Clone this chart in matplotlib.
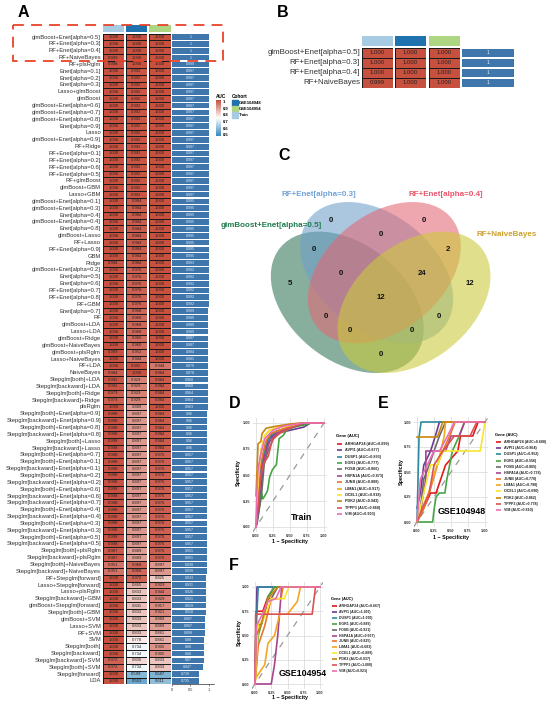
import matplotlib
matplotlib.use("Agg")
import matplotlib.pyplot as plt
from matplotlib.colors import LinearSegmentedColormap, Normalize
from matplotlib.patches import Ellipse, Rectangle
import numpy as np

plt.rcParams['font.family'] = ['Liberation Sans', 'DejaVu Sans']
W, H = 550, 705
fig = plt.figure(figsize=(W/100, H/100), dpi=100)

def E(a): return f"Enet[alpha=0.{a}]"
def gE(a): return "glmBoost+" + E(a)
def rE(a): return "RF+" + E(a)
def bE(a): return "Stepglm[both]+" + E(a)
def kE(a): return "Stepglm[backward]+" + E(a)

models = [gE(5), rE(3), rE(4), "RF+NaiveBayes", "RF+plsRglm", E(1), E(2), E(3), "Lasso+glmBoost", "glmBoost",
          gE(6), gE(7), gE(8), E(9), "Lasso", gE(9), "RF+Ridge", rE(1), rE(2), rE(6), rE(5), "RF+glmBoost",
          "glmBoost+GBM", "Lasso+GBM", gE(1), gE(3), E(4), gE(4), E(8), "glmBoost+Lasso", "RF+Lasso", rE(9),
          "GBM", "Ridge", gE(2), E(5), E(6), rE(7), rE(8), "RF+GBM", E(7), "RF", "glmBoost+LDA", "Lasso+LDA",
          "glmBoost+Ridge", "glmBoost+NaiveBayes", "glmBoost+plsRglm", "Lasso+NaiveBayes", "RF+LDA", "NaiveBayes",
          "Stepglm[both]+LDA", "Stepglm[backward]+LDA", "Stepglm[both]+Ridge", "Stepglm[backward]+Ridge", "plsRglm",
          bE(9), kE(9), bE(8), kE(8), "Stepglm[both]+Lasso", "Stepglm[backward]+Lasso", bE(7), bE(1), kE(1), bE(2),
          kE(2), bE(6), kE(6), kE(7), bE(4), kE(4), bE(3), kE(3), bE(5), kE(5), "Stepglm[both]+plsRglm",
          "Stepglm[backward]+plsRglm", "Stepglm[both]+NaiveBayes", "Stepglm[backward]+NaiveBayes",
          "RF+Stepglm[forward]", "Lasso+Stepglm[forward]", "Lasso+plsRglm", "Stepglm[backward]+GBM",
          "glmBoost+Stepglm[forward]", "Stepglm[both]+GBM", "glmBoost+SVM", "Lasso+SVM", "RF+SVM", "SVM",
          "Stepglm[both]", "Stepglm[backward]", "Stepglm[backward]+SVM", "Stepglm[both]+SVM", "Stepglm[forward]", "LDA"]

auc_train = [1, 1, 1, .999, .998] + [1]*28 + [.994] + [1]*6 + [1, 1, 1, 1, 1, 1, .999, 1, 1, .984, .992, .992, .979, .979, 1] \
    + [.998]*20 + [.987, .987, .951, .951, 1, 1, 1, 1, 1, 1, 1, 1, 1, 1, 1, 1, .972, .972, 1, 1]
auc_948 = [1, 1, 1, 1, 1] + [.992]*19 + [.984]*10 + [.976]*6 + [.968]*4 + [.960, .960, .952, .944, .992, 1, .929, .929, .929, .929, .889] \
    + [.897]*20 + [.889, .889, .968, .968, .972, .865, .833, .833, .841, .833, .833, .833, .833, .778, .734, .734, .806, .734, .599, .563]
auc_954 = [1]*48 + [.944, .984, .984, .984, .984, .984, 1] + [.984]*6 + [.976]*14 + [.976, .976, .897, .897, .825, .929, .944, .929, .917, .921,
    .889, .889, .861, .861, .905, .905, .833, .833, .587, .611]
auc_mean = [1, 1, 1, 1, .999] + [.997]*19 + [.995]*9 + [.993] + [.992]*6 + [.989]*4 + [.987, .987, .984, .981, .979, .978, .968, .968, .964, .964, .963] \
    + [.96]*6 + [.957]*14 + [.951, .951, .939, .939, .933, .931, .926, .921, .919, .918, .907, .907, .898, .88, .88, .88, .87, .847, .729, .725]

top_models = models[:4]
top_train = [1, 1, 1, .999]
top_948 = [1, 1, 1, 1]
top_954 = [1, 1, 1, 1]
top_mean = [1, 1, 1, 1]

cohort_names = ["GSE104948", "GSE104954", "Train"]
cohort_colors = {"Train": "#a6cbe3", "GSE104948": "#1f72ad", "GSE104954": "#aed582"}
col_order = ["Train", "GSE104948", "GSE104954"]

cmap = LinearSegmentedColormap.from_list("auc", [(0, "#3a8abb"), (.5, "#ffffff"), (1, "#c8503f")])
norm = Normalize(.5, 1)

def ax_px(x0, y0, x1, y1, **kw):
    return fig.add_axes([x0/W, 1-y1/H, (x1-x0)/W, (y1-y0)/H], **kw)

def heat_table(names, cols, means, col_x, bar_x, rows_y, head_y, label_fs, cell_fs, bar_fs, elw, axis):
    n = len(names)
    for (x0, x1), vals, key in zip(col_x, cols, col_order):
        a = ax_px(x0, rows_y[0], x1, rows_y[1])
        a.pcolormesh([0, 1], np.arange(n+1), np.array(vals)[:, None], cmap=cmap, norm=norm,
                     edgecolors="#1a1a1a", linewidth=elw)
        a.set_xlim(0, 1); a.set_ylim(n, 0); a.axis("off")
        for i, v in enumerate(vals):
            a.text(.5, i+.5, f"{v:.3f}", ha="center", va="center", fontsize=cell_fs, color="#222222")
        h = ax_px(x0, head_y[0], x1, head_y[1])
        h.add_patch(Rectangle((0, 0), 1, 1, color=cohort_colors[key]))
        h.axis("off")
    b = ax_px(bar_x[0], rows_y[0], bar_x[1], rows_y[1])
    b.barh(np.arange(n)+.5, means, height=.84, color="#3f77ad")
    b.set_ylim(n, 0)
    b.set_xlim(0, (bar_x[1]-bar_x[0])/bar_x[2])
    for i, v in enumerate(means):
        b.text(v/2, i+.5, f"{v:g}", ha="center", va="center", fontsize=bar_fs, color="#e8eef5")
    for s in ["top", "left", "right"]:
        b.spines[s].set_visible(False)
    b.set_yticks([])
    if axis:
        b.set_xticks([0, .5, 1], ["0", "0.5", "1"], fontsize=2.8)
        b.tick_params(axis="x", length=1.5, width=.4, pad=.8, colors="#333333")
        b.spines["bottom"].set_linewidth(.4)
    else:
        b.axis("off")
    y = ax_px(col_x[0][0]-2, rows_y[0], col_x[0][0]-1, rows_y[1])
    y.set_ylim(n, 0); y.axis("off")
    for i, nm in enumerate(names):
        y.text(0, i+.5, nm, ha="right", va="center", fontsize=label_fs, color="#333333")

heat_table(models, [auc_train, auc_948, auc_954], auc_mean,
           [(103, 124), (126, 147), (149.5, 171)], (172, 213.5, 36.9), (33.6, 684.4), (25, 32),
           4.2, 3.0, 2.6, .45, True)
heat_table(top_models, [top_train, top_948, top_954], top_mean,
           [(362, 393), (395, 426), (429, 460)], (462, 514, 52), (48, 88), (36, 46),
           5.7, 4.3, 3.6, .7, False)

ov = fig.add_axes([0, 0, 1, 1], zorder=20)
ov.set_xlim(0, W); ov.set_ylim(H, 0); ov.axis("off"); ov.patch.set_alpha(0)

ov.add_patch(Rectangle((13, 25), 210, 36, fill=False, edgecolor="#e8432a", linewidth=1.3,
                       linestyle=(0, (6, 4))))
for t, x, y in [("A", 18, 12.5), ("B", 277, 12.5), ("C", 278, 155.5), ("D", 229, 404), ("E", 378, 404), ("F", 229, 566)]:
    ov.text(x, y, t, fontsize=11.5, fontweight="bold", ha="left", va="center", color="black")

# heat legend
ov.text(216, 96, "AUC", fontsize=3.4, fontweight="bold", va="center")
cb = ax_px(216, 100, 221, 136, zorder=21)
cb.imshow(np.linspace(1, .5, 100)[:, None], aspect="auto", cmap=cmap, norm=norm, extent=[0, 1, .5, 1])
cb.axis("off")
for v, y in zip(["1", "0.9", "0.8", "0.7", "0.6", "0.5"], [102, 108.5, 115, 122, 128.5, 135]):
    ov.text(222.5, y, v, fontsize=3, fontweight="bold", va="center")
ov.text(232, 96, "Cohort", fontsize=3.4, fontweight="bold", va="center")
for nm, y in zip(cohort_names, [103, 109, 115]):
    ov.add_patch(Rectangle((232, y-2.8), 5.6, 5.6, color=cohort_colors[nm]))
    ov.text(238.5, y, nm, fontsize=3, fontweight="bold", va="center")

# Venn
venn_sets = ["glmBoost+Enet[alpha=0.5]", "RF+Enet[alpha=0.3]", "RF+Enet[alpha=0.4]", "RF+NaiveBayes"]
venn_colors = ["#327658", "#6ea0cb", "#e36775", "#cbcb39"]
venn_centers = [(347.3, 302.3), (376.7, 272.7), (384.3, 272.7), (414, 302.3)]
venn_angles = [39, 39, -39, -39]
venn_counts = [0, 0, 0, 0, 2, 5, 12, 0, 24, 12, 0, 0, 0, 0, 0]
venn_pos = [(272, 242), (553, 242), (222, 328), (423, 285), (625, 328), (150, 430), (690, 430), (302, 400),
            (545, 400), (423, 472), (258, 530), (597, 530), (330, 573), (517, 573), (423, 645)]
for c, xy, ang in zip(venn_colors, venn_centers, venn_angles):
    ov.add_patch(Ellipse(xy, 173, 116, angle=ang, facecolor=c, edgecolor="none", alpha=.58))
for v, (zx, zy) in zip(venn_counts, venn_pos):
    ov.text(240+zx/3, 140+zy/3, str(v), fontsize=5.6, fontweight="bold", ha="center", va="center", color="#111111")
ov.text(322, 225.5, venn_sets[0], fontsize=5.8, fontweight="bold", color="#1f7a4d", ha="right", va="center")
ov.text(319, 194, venn_sets[1], fontsize=5.8, fontweight="bold", color="#6fa3d8", ha="center", va="center")
ov.text(446, 194, venn_sets[2], fontsize=5.8, fontweight="bold", color="#e8566b", ha="center", va="center")
ov.text(507, 234.5, venn_sets[3], fontsize=5.8, fontweight="bold", color="#cda22c", ha="center", va="center")

# ROC curves
genes = ["ARHGAP24", "AVPI1", "DUSP1", "EGR1", "FOSB", "HSPA1A", "JUNB", "LIMA1", "OCEL1", "PDK2", "TPPP3", "VIM"]
gene_colors = ["#e41a1c", "#6a3d8f", "#2f8aa0", "#46a546", "#6b6b6b", "#a8448f", "#e8762b", "#f5a623", "#f7e62e", "#c8860d", "#d9534f", "#e96fb2"]
auc_D = [".899", ".877", ".893", ".777", ".866", ".873", ".888", ".917", ".918", ".943", ".860", ".903"]
auc_E = [".688", ".864", ".952", ".556", ".865", ".738", ".778", ".798", ".690", ".862", ".778", ".810"]
auc_F = [".667", "1.000", "1.000", ".889", ".921", ".667", ".825", ".683", ".889", ".937", "1.000", ".921"]

D_ARHGAP24 = [(0,0),(.02,.2),(.05,.45),(.1,.65),(.13,.78),(.2,.87),(.3,.92),(.45,.95),(.6,.98),(.75,1),(1,1)]
D_AVPI1 = [(0,0),(.03,.15),(.07,.35),(.1,.55),(.13,.72),(.2,.85),(.3,.9),(.5,.93),(.7,.96),(.8,1),(1,1)]
D_DUSP1 = [(0,0),(.02,.15),(.06,.4),(.08,.6),(.15,.8),(.22,.88),(.3,.92),(.5,.96),(.65,.98),(.75,1),(1,1)]
D_EGR1 = [(0,0),(.02,.05),(.05,.2),(.08,.33),(.1,.27),(.13,.3),(.17,.35),(.2,.48),(.24,.55),(.3,.6),(.34,.85),(.4,.88),(.45,.93),(.55,.96),(.7,.98),(.8,1),(1,1)]
D_FOSB = [(0,0),(.03,.1),(.08,.3),(.12,.6),(.17,.72),(.25,.84),(.32,.9),(.45,.94),(.6,.97),(.72,1),(1,1)]
D_HSPA1A = [(0,0),(.02,.1),(.06,.4),(.1,.6),(.14,.7),(.2,.82),(.3,.9),(.42,.93),(.55,.98),(.7,1),(1,1)]
D_JUNB = [(0,0),(.03,.3),(.05,.55),(.1,.7),(.15,.83),(.22,.9),(.35,.93),(.5,.97),(.7,1),(1,1)]
D_LIMA1 = [(0,0),(.02,.3),(.05,.6),(.08,.75),(.13,.88),(.2,.93),(.35,.96),(.55,.98),(.7,1),(1,1)]
D_OCEL1 = [(0,0),(.02,.25),(.04,.55),(.09,.78),(.13,.88),(.2,.93),(.3,.95),(.45,.97),(.68,1),(1,1)]
D_PDK2 = [(0,.3),(.03,.8),(.07,.82),(.09,.9),(.15,.95),(.3,.97),(.5,.99),(.65,1),(1,1)]
D_TPPP3 = [(0,0),(.03,.2),(.07,.5),(.12,.62),(.18,.68),(.24,.84),(.35,.9),(.5,.95),(.7,1),(1,1)]
D_VIM = [(0,0),(.01,.3),(.03,.55),(.07,.7),(.13,.85),(.25,.93),(.4,.97),(.6,.99),(.68,1),(1,1)]

E_ARHGAP24 = [(0,0),(.1,.14),(.2,.29),(.28,.29),(.35,.43),(.42,.57),(.6,.71),(.64,.86),(.82,.86),(.9,1),(1,1)]
E_AVPI1 = [(0,.14),(.05,.29),(.1,.57),(.2,.71),(.27,.86),(.33,1),(1,1)]
E_DUSP1 = [(0,0),(.03,.85),(.06,1),(1,1)]
E_EGR1 = [(0,0),(.23,0),(.25,.12),(.28,.25),(.33,.29),(.41,.29),(.44,.43),(.52,.71),(.62,.86),(.7,1),(1,1)]
E_FOSB = [(0,0),(.05,.14),(.1,.43),(.18,.57),(.25,.71),(.33,.86),(.42,1),(1,1)]
E_HSPA1A = [(0,0),(.06,.14),(.13,.43),(.13,.71),(.42,.71),(.5,.86),(.62,.86),(.7,1),(1,1)]
E_JUNB = [(0,0),(.1,.14),(.18,.29),(.3,.57),(.38,.71),(.48,.86),(.56,1),(1,1)]
E_LIMA1 = [(0,0),(.08,.14),(.17,.29),(.23,.43),(.3,.57),(.35,.71),(.4,.86),(.42,1),(1,1)]
E_OCEL1 = [(0,0),(.1,.29),(.2,.57),(.3,.57),(.38,.71),(.93,.71),(1,1)]
E_PDK2 = [(0,.85),(.3,.85),(.38,1),(1,1)]
E_TPPP3 = [(0,0),(.08,.14),(.18,.29),(.25,.57),(.38,.71),(.55,.86),(.78,.86),(.88,1),(1,1)]
E_VIM = [(0,0),(.05,.43),(.15,.57),(.25,.71),(.33,.71),(.45,.86),(.55,1),(.85,1),(.95,1),(1,1)]

F_ARHGAP24 = [(0,0),(.02,.75),(.12,.75),(.2,.9),(.3,1),(.88,1),(1,1)]
F_AVPI1 = [(0,0),(.03,1),(1,1)]
F_DUSP1 = [(0,0),(.01,.5),(.05,1),(1,1)]
F_EGR1 = [(0,0),(.05,.5),(.1,.62),(.15,.72),(.2,.9),(.3,1),(1,1)]
F_FOSB = [(0,0),(.03,.6),(.1,.62),(.2,.88),(.25,.88),(.35,1),(1,1)]
F_HSPA1A = [(0,0),(.25,0),(.3,.2),(.35,.5),(.38,.75),(.41,1),(1,1)]
F_JUNB = [(0,0),(.05,.4),(.15,.6),(.25,.88),(.4,.88),(.43,1),(1,1)]
F_LIMA1 = [(0,.05),(.05,.1),(.15,.2),(.2,.42),(.3,.5),(.38,.72),(.5,.72),(.65,.85),(.7,1),(1,1)]
F_OCEL1 = [(0,0),(.05,.62),(.12,.65),(.25,.88),(.45,.88),(.52,1),(1,1)]
F_PDK2 = [(0,0),(.02,.5),(.1,.62),(.2,.88),(.35,1),(1,1)]
F_TPPP3 = [(0,0),(.01,.72),(.4,.72),(.88,.72),(.93,1),(1,1)]
F_VIM = [(0,0),(.02,.6),(.1,.7),(.2,.85),(.32,.88),(.4,1),(1,1)]

D_curves = [D_ARHGAP24, D_AVPI1, D_DUSP1, D_EGR1, D_FOSB, D_HSPA1A, D_JUNB, D_LIMA1, D_OCEL1, D_PDK2, D_TPPP3, D_VIM]
E_curves = [E_ARHGAP24, E_AVPI1, E_DUSP1, E_EGR1, E_FOSB, E_HSPA1A, E_JUNB, E_LIMA1, E_OCEL1, E_PDK2, E_TPPP3, E_VIM]
F_curves = [F_ARHGAP24, F_AVPI1, F_DUSP1, F_EGR1, F_FOSB, F_HSPA1A, F_JUNB, F_LIMA1, F_OCEL1, F_PDK2, F_TPPP3, F_VIM]

def roc(curves, aucs, x0, x1, y1, y0, label, lab_xy, xlab_xy, ylab_xy, leg):
    dx = (x1-x0)*.05; dy = (y0-y1)*.05
    a = ax_px(x0-dx, y1-dy, x1+dx, y0+dy)
    a.set_xlim(-.05, 1.05); a.set_ylim(-.05, 1.05)
    for s in a.spines.values():
        s.set_visible(False)
    ticks = [0, .25, .5, .75, 1]
    labs = ["0.00", "0.25", "0.50", "0.75", "1.00"]
    a.set_xticks(ticks, labs, fontsize=2.8, fontweight="bold")
    a.set_yticks(ticks, labs, fontsize=2.8, fontweight="bold")
    a.tick_params(length=0, pad=1.5, colors="#333333")
    a.grid(color="#dedede", linewidth=.6)
    a.set_axisbelow(True)
    a.plot([-.05, 1.05], [-.05, 1.05], color="#999999", linestyle=(0, (5, 5)), linewidth=.9)
    for c, col in zip(curves, gene_colors):
        xs, ys = zip(*c)
        a.plot(xs, ys, color=col, linewidth=1.2)
    ov.text(*lab_xy, label, fontsize=6.4, fontweight="bold", ha="center", va="center")
    ov.text(*xlab_xy, "1 − Specificity", fontsize=3.8, fontweight="bold", ha="center", va="center")
    ov.text(*ylab_xy, "Specificity", fontsize=3.8, fontweight="bold", rotation=90, ha="center", va="center")
    tx, ty, kx0, kx1, lx, y_first, y_last, fs = leg
    ov.text(tx, ty, "Gene (AUC)", fontsize=fs+.3, fontweight="bold", va="center")
    for g, v, col, y in zip(genes, aucs, gene_colors, np.linspace(y_first, y_last, 12)):
        ov.plot([kx0, kx1], [y, y], color=col, linewidth=1.2, solid_capstyle="butt")
        val = v if v.startswith("1") else "0" + v
        ov.text(lx, y, f"{g} (AUC={val})", fontsize=fs, fontweight="bold", va="center", color="#222222")

roc(D_curves, auc_D, 256, 324, 423, 527, "Train", (302, 517), (290, 542), (238, 473), (336, 436, 337, 342, 345, 444, 514, 2.7))
roc(E_curves, auc_E, 417, 485, 422, 522, "GSE104948", (462, 511), (451, 538), (401, 472), (495, 435, 496, 501, 504, 442, 510, 2.6))
roc(F_curves, auc_F, 255, 320, 587, 684, "GSE104954", (303, 673), (290, 698), (239, 633), (331, 599, 332, 337, 339, 606, 671, 2.5))

fig.savefig("out.png", dpi=100)
